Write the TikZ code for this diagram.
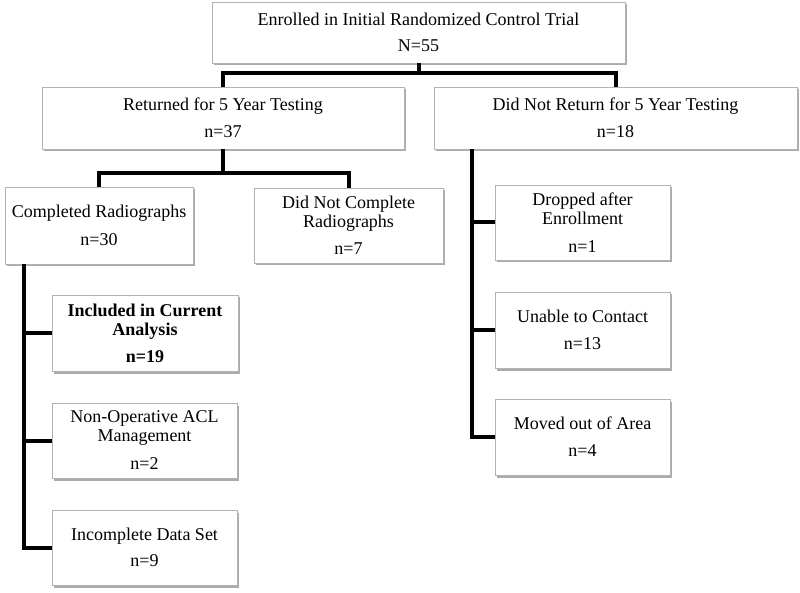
\documentclass[tikz,border=0pt]{standalone}
\usepackage{fontspec}
\setmainfont{Liberation Serif}
\usetikzlibrary{shadows}
\begin{document}
\begin{tikzpicture}[x=1pt,y=-1pt,
  box/.style={draw=black!30, line width=0.8pt, fill=white, inner sep=0pt,
    align=center, font=\fontsize{18}{19}\selectfont, text=black,
    drop shadow={shadow xshift=1.5pt, shadow yshift=-2.5pt, fill=black!55, opacity=0.6}},
  conn/.style={draw=black, line width=4pt, line join=miter}]
\useasboundingbox (0,0) rectangle (800,593);

\node[box, minimum width=413pt, minimum height=61pt] (top) at (418.5,32.5)
  {Enrolled in Initial Randomized Control Trial\\[7pt] N=55};
\node[box, minimum width=362pt, minimum height=62pt] (ret) at (223,118)
  {Returned for 5 Year Testing\\[8pt] n=37};
\node[box, minimum width=363pt, minimum height=62pt] (dnr) at (615.5,118)
  {Did Not Return for 5 Year Testing\\[8pt] n=18};
\node[box, minimum width=188pt, minimum height=77pt] (comp) at (99,225.5)
  {Completed Radiographs\\[9pt] n=30};
\node[box, minimum width=189pt, minimum height=75pt] (dnc) at (348.5,225.5)
  {Did Not Complete\\ Radiographs\\[8pt] n=7};
\node[box, minimum width=175pt, minimum height=75pt] (drop) at (582.5,222.5)
  {Dropped after\\ Enrollment\\[9pt] n=1};
\node[box, minimum width=175pt, minimum height=76pt] (unable) at (582.5,330)
  {Unable to Contact\\[8pt] n=13};
\node[box, minimum width=175pt, minimum height=76pt] (moved) at (582.5,437)
  {Moved out of Area\\[8pt] n=4};
\node[box, minimum width=186pt, minimum height=76pt, font=\fontsize{18}{19}\selectfont\bfseries] (incl) at (145,333)
  {Included in Current\\ Analysis\\[8pt] n=19};
\node[box, minimum width=185pt, minimum height=75pt] (nonop) at (144.5,440.5)
  {Non-Operative ACL\\ Management\\[9pt] n=2};
\node[box, minimum width=185pt, minimum height=75pt] (incompl) at (144.5,547.5)
  {Incomplete Data Set\\[7pt] n=9};

\coordinate (bus1) at (420,73);
\coordinate (bus2) at (223,173);
\draw[conn] (top.south) -- (top.south |- bus1);
\draw[conn] (ret.north) |- (bus1) -| (dnr.north);
\draw[conn] (ret.south) -- (bus2);
\draw[conn] (comp.north) |- (bus2) -| (dnc.north);

\draw[conn] ([xshift=19pt]comp.south west) |- (incl.west);
\draw[conn] ([xshift=19pt]comp.south west) |- (nonop.west);
\draw[conn] ([xshift=19pt]comp.south west) |- (incompl.west);

\draw[conn] ([xshift=38pt]dnr.south west) |- (drop.west);
\draw[conn] ([xshift=38pt]dnr.south west) |- (unable.west);
\draw[conn] ([xshift=38pt]dnr.south west) |- (moved.west);
\end{tikzpicture}
\end{document}
